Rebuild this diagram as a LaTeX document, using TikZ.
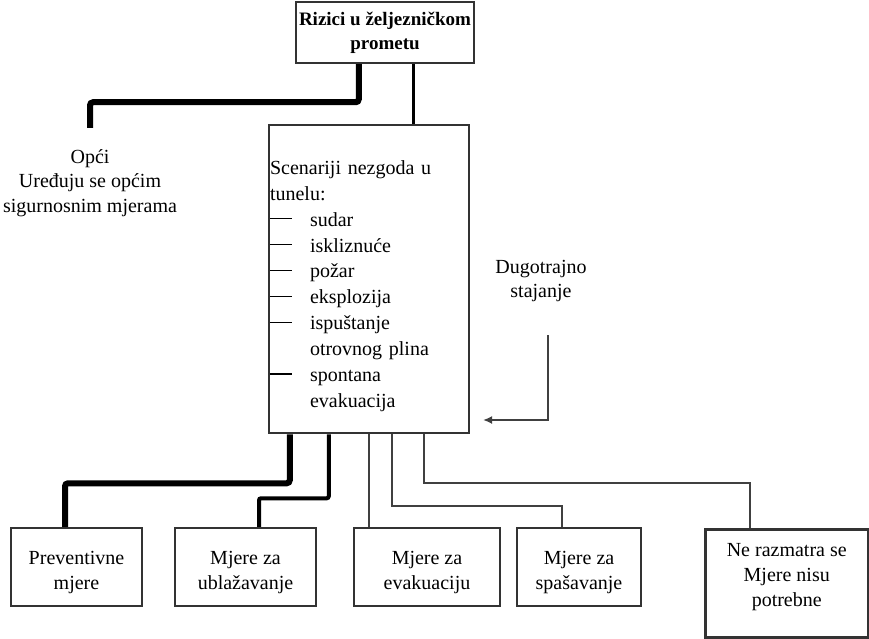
\documentclass[tikz,border=0pt]{standalone}
\usepackage{fontspec}
\setmainfont{Liberation Serif}
\usetikzlibrary{arrows.meta,positioning,calc}
\tikzset{
    box/.style = {draw=black!80, line width=2.5pt, rectangle, align=center, inner sep=2pt, font=\fontsize{20}{25}\selectfont},
    tekst/.style = {align=center, font=\fontsize{20}{24.5}\selectfont},
    debela/.style = {line width=6pt, rounded corners=3pt},
    srednja/.style = {line width=4pt, rounded corners=2pt},
    tanka/.style = {line width=2pt, draw=black!75},
}
\newcommand{\crta}{\makebox[40pt][l]{\rule[7pt]{22pt}{1.2pt}}}
\newcommand{\gore}{\rule{0pt}{24pt}}

\begin{document}
\begin{tikzpicture}[x=1pt, y=-1pt]
    \useasboundingbox (0,0) rectangle (869,639);
    % vrh
    \node[box, font=\bfseries\fontsize{19}{24}\selectfont, minimum width=178pt, minimum height=61pt] (rizici) at (385,32.5) {Rizici u željezničkom\\prometu};
    \node[tekst] (opci) at (90,183) {Opći\\Uređuju se općim\\sigurnosnim mjerama};
    \node[box, align=left, text width=198pt, minimum height=308pt, inner sep=1pt, font=\fontsize{20}{25.9}\selectfont] (scen) at (369,279) {\rule{0pt}{28pt}Scenariji nezgoda u\\tunelu:\\\crta sudar\\\crta iskliznuće\\\crta požar\\\crta eksplozija\\\crta ispuštanje\\\hspace*{40pt}otrovnog plina\\\crta spontana\\\hspace*{40pt}evakuacija};
    \node[tekst] (dug) at (541,281) {Dugotrajno\\stajanje};
    \coordinate (a1) at (548,335);
    \coordinate (a2) at (483,420);

    % mjere
    \node[box, minimum width=131pt, minimum height=78pt] (prev) at (76.5,567) {\gore Preventivne\\mjere};
    \node[box, minimum width=141pt, minimum height=78pt, right=30.5pt of prev] (ublaz) {\gore Mjere za\\ublažavanje};
    \node[box, minimum width=146pt, minimum height=78pt, right=35.5pt of ublaz] (evak) {\gore Mjere za\\evakuaciju};
    \node[box, minimum width=124pt, minimum height=78pt, right=14.5pt of evak] (spas) {\gore Mjere za\\spašavanje};
    \node[box, minimum width=163pt, minimum height=108pt, anchor=north west] (nere) at (704,528) {Ne razmatra se\\Mjere nisu\\potrebne\rule[-17pt]{0pt}{17pt}};

    \draw[debela] (rizici.south west) ++(64,0) -- ++(0,38) -| ([yshift=18pt]opci.north);
    \draw[line width=3pt] (rizici.south west) ++(119,0) coordinate (r1) -- (r1 |- scen.north);
    \draw[tanka, line width=2.5pt, -{Latex[length=9pt,width=8pt]}] (a1) |- (a2);

    \draw[debela] (scen.south west) ++(22,0) -- ++(0,49) -| ([xshift=-11.5pt]prev.north);
    \draw[srednja] (scen.south west) ++(61,0) -- ++(0,64) -| ([xshift=13.5pt]ublaz.north);
    \draw[tanka] (scen.south west) ++(101,0) coordinate (s3) -- (s3 |- evak.north);
    \draw[tanka] (scen.south west) ++(124,0) -- ++(0,72) -| ([xshift=-17pt]spas.north);
    \draw[tanka] (scen.south west) ++(156,0) -- ++(0,49) -| ([xshift=-36.5pt]nere.north);
\end{tikzpicture}
\end{document}
